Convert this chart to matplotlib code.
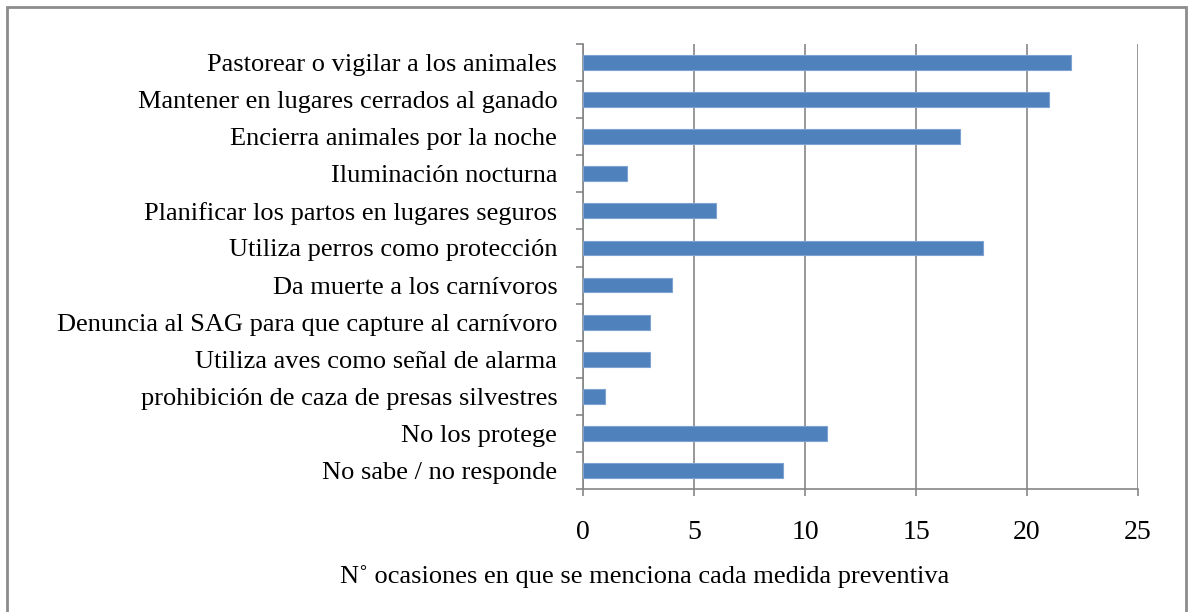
import matplotlib
matplotlib.use("Agg")
from matplotlib import pyplot as plt
from matplotlib.patches import Rectangle

categories = [
    "Pastorear o vigilar a los animales",
    "Mantener en lugares cerrados al ganado",
    "Encierra animales por la noche",
    "Iluminación nocturna",
    "Planificar los partos en lugares seguros",
    "Utiliza perros como protección",
    "Da muerte a los carnívoros",
    "Denuncia al SAG para que capture al carnívoro",
    "Utiliza aves como señal de alarma",
    "prohibición de caza de presas silvestres",
    "No los protege",
    "No sabe / no responde",
]
values = [22, 21, 17, 2, 6, 18, 4, 3, 3, 1, 11, 9]
xticks = [0, 5, 10, 15, 20, 25]
xlabel = "N˚ ocasiones en que se menciona cada medida preventiva"

plt.rcParams["font.family"] = ["Liberation Serif", "DejaVu Serif"]
grey = "#868686"

fig = plt.figure(figsize=(11.89, 6.12), dpi=100)
W, H = 1189, 612
ax = fig.add_axes([583 / W, 1 - 489 / H, (1138 - 583) / W, (489 - 44) / H])

pos = list(range(len(categories)))
ax.barh(pos, values, height=0.4, color="#4F81BD", edgecolor="#7EA3D2",
        linewidth=0.8, zorder=3)
ax.set_ylim(len(categories) - 0.5, -0.5)
ax.set_xlim(0, 25)

ax.set_xticks(xticks)
ax.set_xticklabels([str(t) for t in xticks], fontsize=20)
ax.set_yticks(pos)
ax.set_yticklabels(categories, fontsize=19)
ax.tick_params(axis="y", length=0, pad=18.5)
ax.set_yticks([p - 0.5 for p in pos] + [len(pos) - 0.5], minor=True)
ax.tick_params(axis="y", which="minor", length=5, color=grey, width=1.2)
ax.tick_params(axis="x", length=5, color=grey, width=1.2, pad=17)

ax.grid(axis="x", color=grey, linewidth=1.2, zorder=0)
for side in ["top", "right"]:
    ax.spines[side].set_visible(False)
for side in ["left", "bottom"]:
    ax.spines[side].set_color(grey)
    ax.spines[side].set_linewidth(1.2)

fig.text(645 / W, 1 - 577 / H, xlabel, fontsize=19, ha="center", va="center")

# chart border, open at the bottom edge of the image
fig.patches.append(Rectangle((7 / W, -0.02), (1186 - 7) / W, 1 - 7 / H + 0.02,
                             transform=fig.transFigure, fill=False,
                             edgecolor="#8c8c8c", linewidth=2))

fig.savefig("out.png", dpi=100)
